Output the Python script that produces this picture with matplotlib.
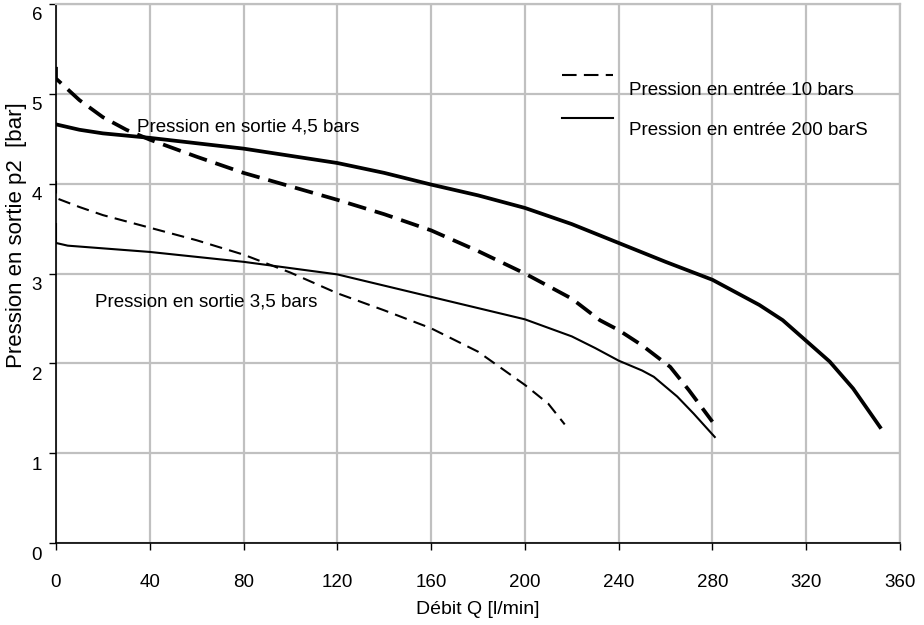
import matplotlib
matplotlib.use("Agg")
import matplotlib.pyplot as plt
from matplotlib.transforms import ScaledTranslation

# Débit Q [l/min] / pression en sortie p2 [bar]
# entrée 10 bars, sortie 4,5 bars (gros pointillé)
q_10_45 = [0, 0, 5, 10, 20, 30, 40, 60, 80, 100, 120, 140, 160, 180, 200, 220, 232, 240, 250, 262, 270, 280]
p_10_45 = [5.30, 5.17, 5.05, 4.93, 4.74, 4.60, 4.49, 4.30, 4.12, 3.97, 3.82, 3.66, 3.48, 3.25, 3.00, 2.72, 2.48, 2.37, 2.20, 1.96, 1.70, 1.35]

# entrée 200 bars, sortie 4,5 bars (gros trait)
q_200_45 = [0, 10, 20, 40, 60, 80, 100, 120, 140, 160, 180, 200, 220, 240, 260, 280, 300, 310, 320, 330, 340, 351.5]
p_200_45 = [4.66, 4.60, 4.56, 4.51, 4.45, 4.39, 4.31, 4.23, 4.12, 3.99, 3.87, 3.73, 3.55, 3.34, 3.13, 2.93, 2.65, 2.48, 2.25, 2.02, 1.72, 1.29]

# entrée 10 bars, sortie 3,5 bars (fin pointillé)
q_10_35 = [0, 0, 5, 10, 20, 40, 60, 80, 100, 120, 140, 160, 180, 200, 210, 217]
p_10_35 = [4.03, 3.84, 3.79, 3.74, 3.65, 3.51, 3.37, 3.21, 3.01, 2.78, 2.59, 2.39, 2.13, 1.76, 1.55, 1.32]

# entrée 200 bars, sortie 3,5 bars (trait fin)
q_200_35 = [0, 0, 5, 10, 40, 80, 120, 160, 200, 220, 230, 240, 250, 255, 265, 272, 281]
p_200_35 = [3.55, 3.34, 3.31, 3.30, 3.24, 3.13, 2.99, 2.74, 2.49, 2.30, 2.17, 2.03, 1.92, 1.85, 1.63, 1.44, 1.18]

x_ticks = [0, 40, 80, 120, 160, 200, 240, 280, 320, 360]
y_ticks = [0, 1, 2, 3, 4, 5, 6]

plt.rcParams["font.family"] = ["Liberation Sans", "DejaVu Sans"]

fig = plt.figure(figsize=(9.24, 6.25), dpi=100)
ax = fig.add_axes([0.0606, 0.1312, 0.9134, 0.8624])

grid_col = "#c0c0c0"
ax.set_xlim(0, 360)
ax.set_ylim(0, 6)
ax.set_xticks(x_ticks)
ax.set_yticks(y_ticks)
ax.grid(True, color=grid_col, linewidth=1.6)
ax.set_axisbelow(True)

for side in ["top", "right"]:
    ax.spines[side].set_color(grid_col)
    ax.spines[side].set_linewidth(1.6)
for side in ["left", "bottom"]:
    ax.spines[side].set_color("black")
    ax.spines[side].set_linewidth(1.2)

ax.tick_params(axis="both", direction="out", length=5, width=1, labelsize=13.5, colors="black")
ax.tick_params(axis="x", pad=17)
ax.tick_params(axis="y", pad=5)

# les étiquettes de l'axe y sont décalées vers le bas sur l'original
shift = ScaledTranslation(0, -0.10, fig.dpi_scale_trans)
for lbl in ax.get_yticklabels():
    lbl.set_transform(lbl.get_transform() + shift)

ax.plot(q_10_45, p_10_45, color="black", linewidth=2.7, linestyle=(0, (5, 2.4)))
ax.plot(q_200_45, p_200_45, color="black", linewidth=2.7)
ax.plot(q_10_35, p_10_35, color="black", linewidth=1.5, linestyle=(0, (6, 3.5)))
ax.plot(q_200_35, p_200_35, color="black", linewidth=1.5)

ax.text(34.6, 4.63, "Pression en sortie 4,5 bars", fontsize=13.5, va="center", ha="left")
ax.text(16.6, 2.68, "Pression en sortie 3,5 bars", fontsize=13.5, va="center", ha="left")

# légende placée à la main, comme sur l'original
ax.plot([0.5995, 0.660], [0.868, 0.868], transform=ax.transAxes, color="black",
        linewidth=1.5, linestyle=(0, (7, 3.5)))
ax.text(0.679, 0.8386, "Pression en entrée 10 bars", transform=ax.transAxes,
        fontsize=13.5, va="center", ha="left")
ax.plot([0.5995, 0.660], [0.7885, 0.7885], transform=ax.transAxes, color="black", linewidth=1.5)
ax.text(0.679, 0.766, "Pression en entrée 200 barS", transform=ax.transAxes,
        fontsize=13.5, va="center", ha="left")

ax.set_xlabel("Débit Q [l/min]", fontsize=14, labelpad=7.5)
ax.set_ylabel("Pression en sortie p2  [bar]", fontsize=16, labelpad=3)
ax.yaxis.label.set_y(0.571)

fig.savefig("out.png", dpi=100)
